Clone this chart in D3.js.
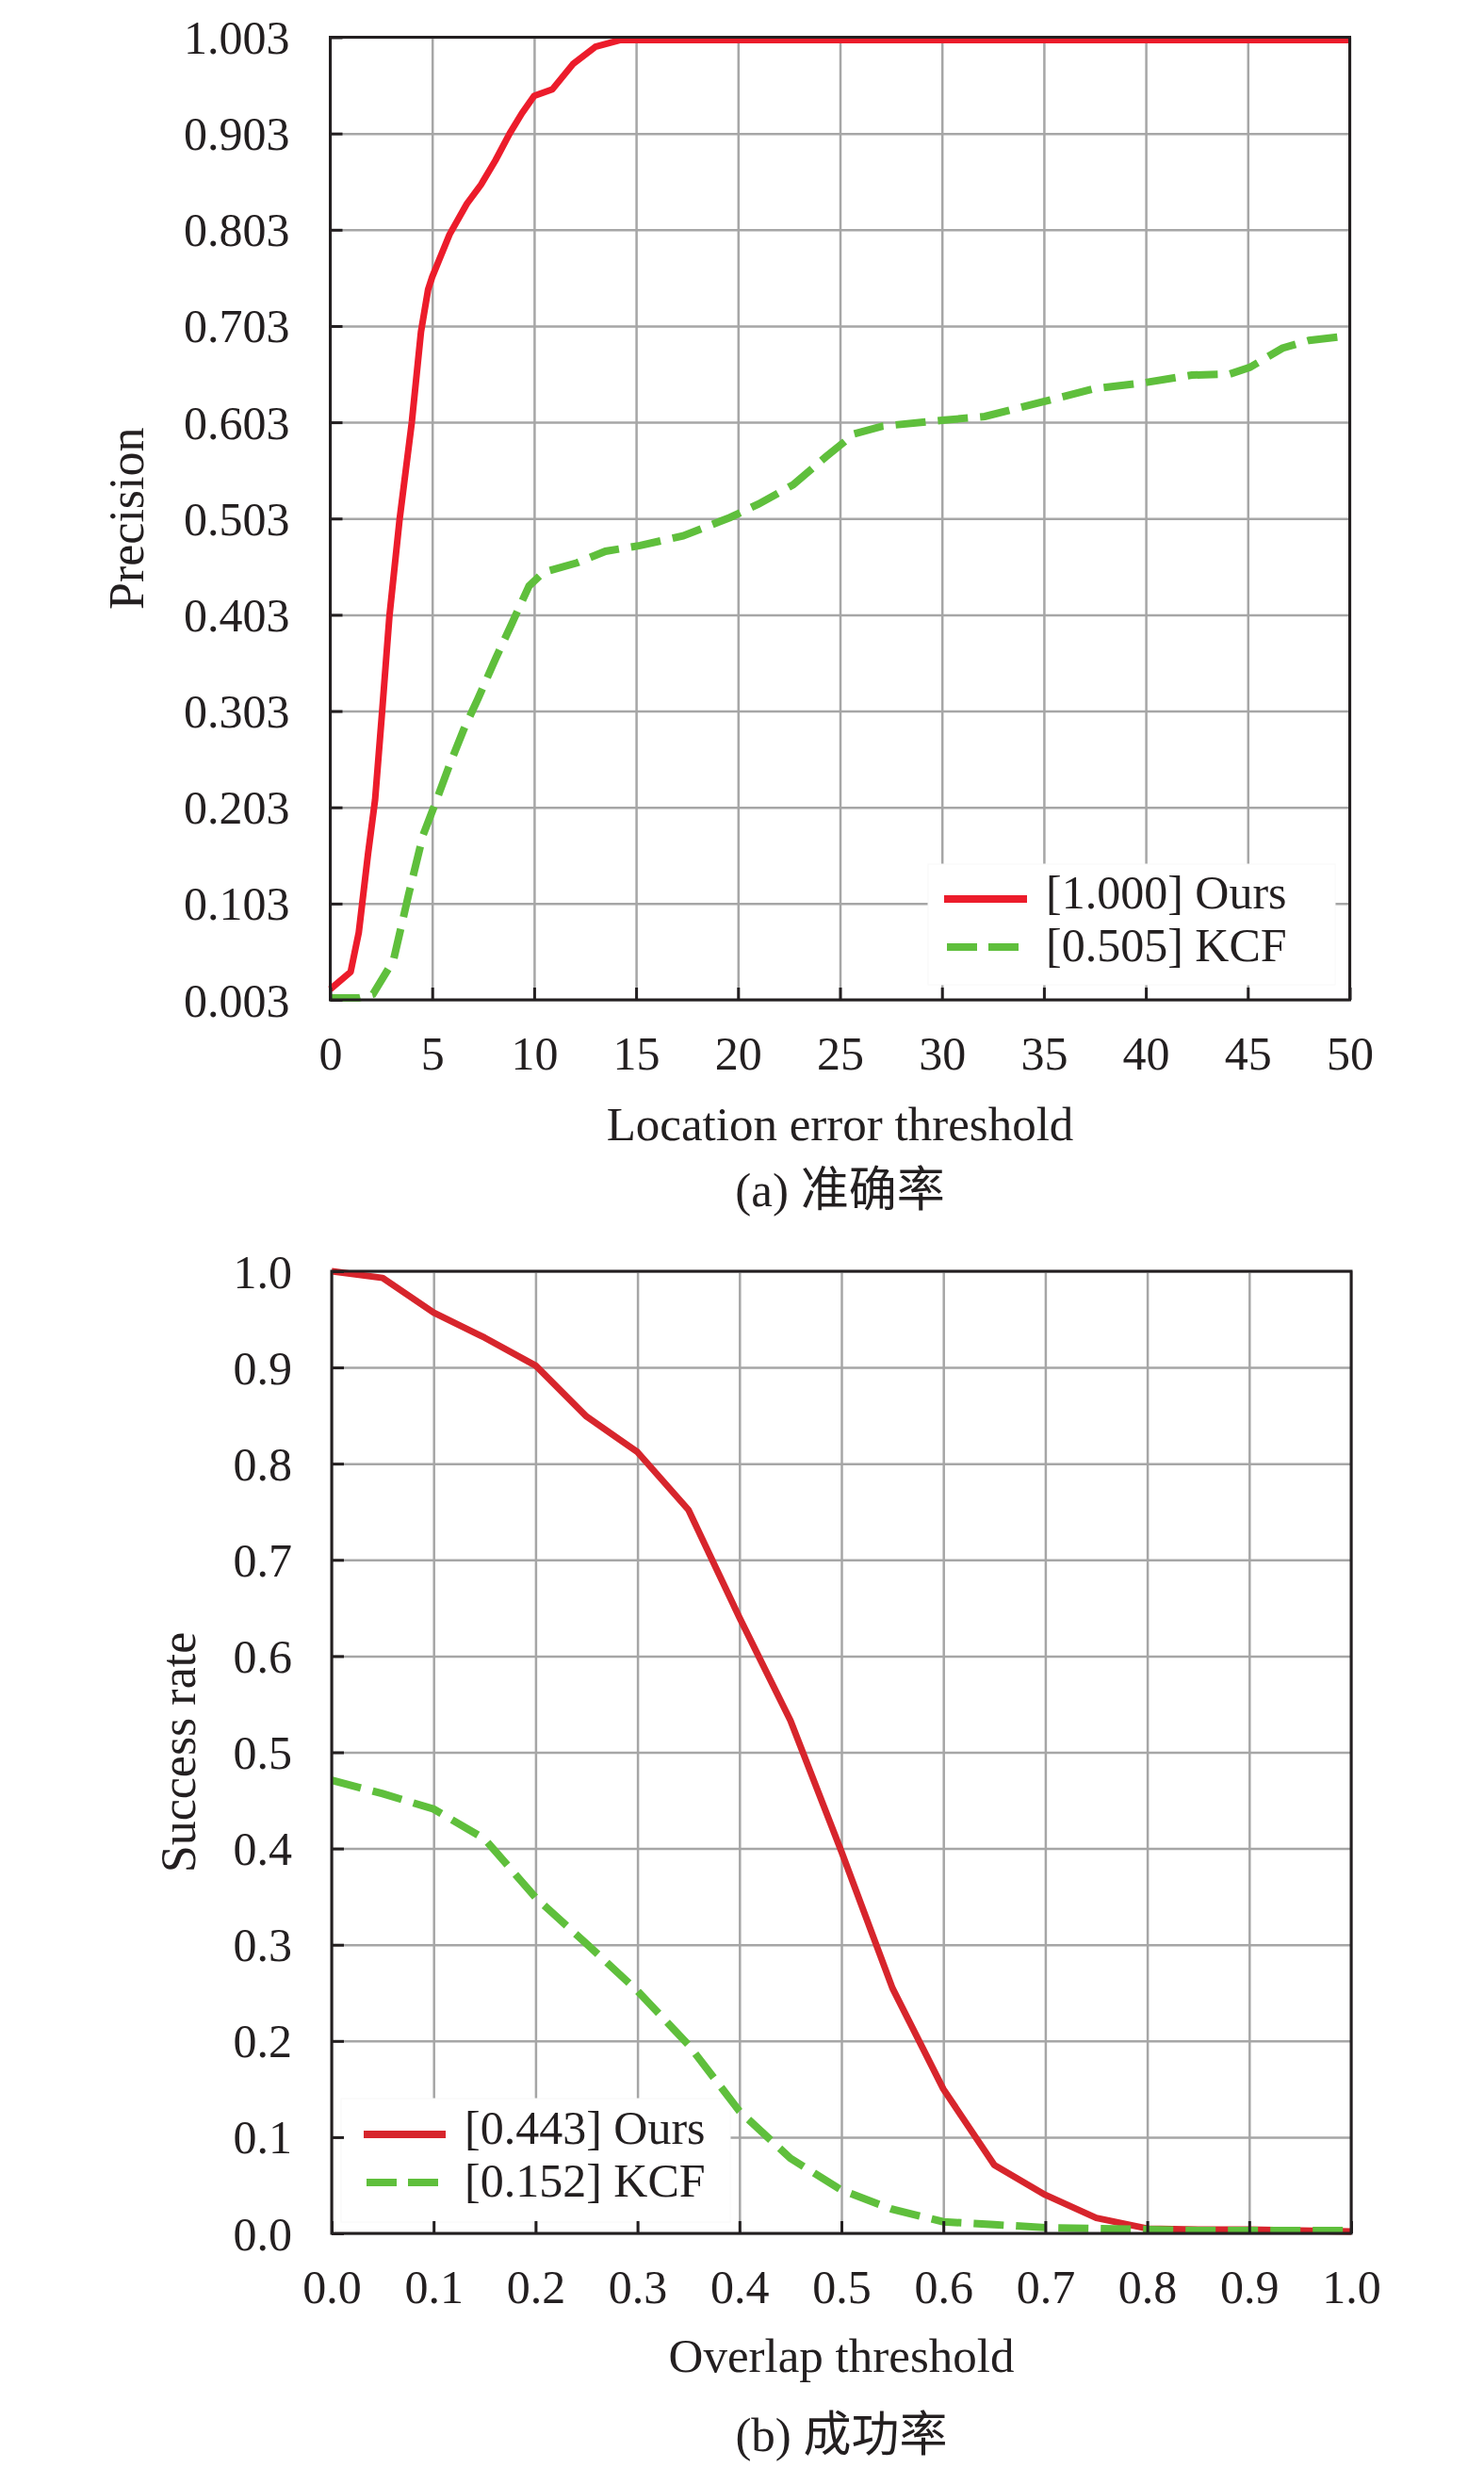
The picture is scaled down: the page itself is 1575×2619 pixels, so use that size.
<!DOCTYPE html>
<html>
<head>
<meta charset="utf-8">
<script src="https://cdn.jsdelivr.net/npm/d3@7"></script>
<style>
  body { margin: 0; background: #fff; }
  text { font-family: "Liberation Serif", "Times New Roman", "Noto Sans CJK SC", serif; fill: #231f20; }
</style>
</head>
<body>
<div id="chart"></div>
<script>
// ---- (a) precision plot data ----
var precXTicks = [0, 5, 10, 15, 20, 25, 30, 35, 40, 45, 50];
var precYTicks = [0.003, 0.103, 0.203, 0.303, 0.403, 0.503, 0.603, 0.703, 0.803, 0.903, 1.003];
var precYLabels = ["0.003", "0.103", "0.203", "0.303", "0.403", "0.503", "0.603", "0.703", "0.803", "0.903", "1.003"];

var precOursX = [0, 1, 1.4, 1.85, 2.2, 2.55, 2.9, 3.4, 4, 4.45, 4.8, 5, 5.85, 6.7, 7.4, 8.1, 8.8, 9.4, 10, 10.9, 11.9, 13, 14.2, 15, 50];
var precOursY = [0.014, 0.032, 0.073, 0.154, 0.211, 0.304, 0.401, 0.502, 0.603, 0.697, 0.741, 0.754, 0.798, 0.83, 0.85, 0.875, 0.903, 0.924, 0.942, 0.949, 0.975, 0.993, 1.0, 1.0, 1.0];

var precKcfX = [0, 1.4, 2.1, 3.1, 3.85, 4.55, 5.15, 5.85, 6.55, 7.25, 8.1, 8.8, 9.75, 10.45, 12.1, 13.5, 15.2, 17.3, 19.6, 21, 22.7, 24.3, 25.7, 27.1, 30, 32.1, 34.9, 37.5, 39.9, 42.25, 44.1, 45.1, 46.7, 48, 50];
var precKcfY = [0.005, 0.005, 0.009, 0.044, 0.113, 0.174, 0.207, 0.247, 0.284, 0.316, 0.357, 0.389, 0.433, 0.447, 0.457, 0.469, 0.475, 0.485, 0.504, 0.518, 0.538, 0.567, 0.591, 0.599, 0.605, 0.609, 0.624, 0.638, 0.644, 0.652, 0.653, 0.660, 0.680, 0.688, 0.693];

var precLegend = ["[1.000] Ours", "[0.505] KCF"];

// ---- (b) success plot data ----
var succXTicks = [0, 0.1, 0.2, 0.3, 0.4, 0.5, 0.6, 0.7, 0.8, 0.9, 1.0];
var succYTicks = [0, 0.1, 0.2, 0.3, 0.4, 0.5, 0.6, 0.7, 0.8, 0.9, 1.0];

var succX = [0, 0.05, 0.1, 0.15, 0.2, 0.25, 0.3, 0.35, 0.4, 0.45, 0.5, 0.55, 0.6, 0.65, 0.7, 0.75, 0.8, 0.85, 0.9, 0.95, 1.0];
var succOurs = [1.0, 0.993, 0.957, 0.931, 0.902, 0.849, 0.812, 0.752, 0.640, 0.533, 0.397, 0.255, 0.150, 0.071, 0.040, 0.016, 0.005, 0.004, 0.004, 0.003, 0.002];
var succKcf = [0.471, 0.457, 0.441, 0.410, 0.349, 0.301, 0.252, 0.196, 0.127, 0.078, 0.045, 0.025, 0.012, 0.009, 0.006, 0.005, 0.004, 0.003, 0.003, 0.003, 0.003];

var succLegend = ["[0.443] Ours", "[0.152] KCF"];

var W = 1575, H = 2619;
var FS = 50;

var svg = d3.select("#chart").append("svg")
  .attr("width", W)
  .attr("height", H);

function zip(xs, ys) {
  return xs.map(function(x, i) { return [x, ys[i]]; });
}

function drawPanel(cfg) {
  var x = d3.scaleLinear().domain(cfg.xDomain).range([cfg.left, cfg.right]);
  var y = d3.scaleLinear().domain(cfg.yDomain).range([cfg.bottom, cfg.top]);
  var g = svg.append("g");

  // grid
  g.append("g")
    .attr("transform", "translate(0," + cfg.bottom + ")")
    .call(d3.axisBottom(x).tickValues(cfg.xTicks).tickSize(-(cfg.bottom - cfg.top)).tickFormat(""))
    .call(function(s) {
      s.select(".domain").remove();
      s.selectAll("line").attr("stroke", "#a6a6a6").attr("stroke-width", 2.5);
    });
  g.append("g")
    .attr("transform", "translate(" + cfg.left + ",0)")
    .call(d3.axisLeft(y).tickValues(cfg.yTicks).tickSize(-(cfg.right - cfg.left)).tickFormat(""))
    .call(function(s) {
      s.select(".domain").remove();
      s.selectAll("line").attr("stroke", "#a6a6a6").attr("stroke-width", 2.5);
    });

  // legend background hides the grid
  g.append("rect")
    .attr("x", cfg.legend.x0).attr("y", cfg.legend.y0)
    .attr("width", cfg.legend.x1 - cfg.legend.x0)
    .attr("height", cfg.legend.y1 - cfg.legend.y0)
    .attr("fill", "#fff")
    .attr("stroke", "#f8f8f8")
    .attr("stroke-width", 1);

  var line = d3.line()
    .x(function(d) { return x(d[0]); })
    .y(function(d) { return y(d[1]); });

  g.append("path")
    .datum(cfg.ours)
    .attr("d", line)
    .attr("fill", "none")
    .attr("stroke", cfg.red)
    .attr("stroke-width", 7)
    .attr("stroke-linejoin", "round");

  g.append("path")
    .datum(cfg.kcf)
    .attr("d", line)
    .attr("fill", "none")
    .attr("stroke", "#5fbf3c")
    .attr("stroke-width", 8)
    .attr("stroke-dasharray", "32,13");

  // frame
  g.append("rect")
    .attr("x", cfg.left).attr("y", cfg.top)
    .attr("width", cfg.right - cfg.left)
    .attr("height", cfg.bottom - cfg.top)
    .attr("fill", "none")
    .attr("stroke", "#231f20")
    .attr("stroke-width", 3);

  // inward ticks + labels
  var ax = g.append("g")
    .attr("transform", "translate(0," + cfg.bottom + ")")
    .call(d3.axisBottom(x).tickValues(cfg.xTicks).tickSize(-13).tickPadding(0).tickFormat(cfg.xFormat));
  ax.select(".domain").remove();
  ax.selectAll("line").attr("stroke", "#231f20").attr("stroke-width", 3);
  ax.selectAll("text")
    .attr("y", 74).attr("dy", null)
    .attr("font-size", FS)
    .attr("fill", "#231f20")
    .style("font-family", "'Liberation Serif', serif");

  var ay = g.append("g")
    .attr("transform", "translate(" + cfg.left + ",0)")
    .call(d3.axisLeft(y).tickValues(cfg.yTicks).tickSize(-13).tickPadding(0)
      .tickFormat(function(d, i) { return cfg.yLabels[i]; }));
  ay.select(".domain").remove();
  ay.selectAll("line").attr("stroke", "#231f20").attr("stroke-width", 3);
  ay.selectAll("text")
    .attr("x", -cfg.yLabelGap).attr("dy", "0.34em")
    .attr("font-size", FS)
    .attr("fill", "#231f20")
    .style("font-family", "'Liberation Serif', serif");

  // axis titles
  g.append("text")
    .attr("transform", "translate(" + cfg.yTitleX + "," + (cfg.top + cfg.bottom) / 2 + ") rotate(-90)")
    .attr("text-anchor", "middle")
    .attr("font-size", 52)
    .text(cfg.yTitle);

  g.append("text")
    .attr("x", (cfg.left + cfg.right) / 2)
    .attr("y", cfg.bottom + cfg.xTitleGap)
    .attr("text-anchor", "middle")
    .attr("font-size", 51)
    .text(cfg.xTitle);

  g.append("text")
    .attr("x", (cfg.left + cfg.right) / 2)
    .attr("y", cfg.bottom + cfg.captionGap)
    .attr("text-anchor", "middle")
    .attr("font-size", 51)
    .text(cfg.caption);

  // legend
  var lg = cfg.legend;
  var names = cfg.legendText;
  g.append("line")
    .attr("x1", lg.lineX0).attr("x2", lg.lineX1)
    .attr("y1", lg.row0 - 10).attr("y2", lg.row0 - 10)
    .attr("stroke", cfg.red).attr("stroke-width", 8);
  g.append("line")
    .attr("x1", lg.lineX0 + 3).attr("x2", lg.lineX1 - 8)
    .attr("y1", lg.row0 + lg.step - 15).attr("y2", lg.row0 + lg.step - 15)
    .attr("stroke", "#5fbf3c").attr("stroke-width", 8)
    .attr("stroke-dasharray", "32,12");
  names.forEach(function(t, i) {
    g.append("text")
      .attr("x", lg.textX)
      .attr("y", lg.row0 + i * lg.step)
      .attr("font-size", FS)
      .text(t);
  });
}

drawPanel({
  left: 350.5, right: 1432.5, top: 39.5, bottom: 1061,
  xDomain: [0, 50], yDomain: [0.003, 1.003],
  xTicks: precXTicks, yTicks: precYTicks, yLabels: precYLabels,
  xFormat: d3.format("d"),
  yLabelGap: 43,
  ours: zip(precOursX, precOursY),
  kcf: zip(precKcfX, precKcfY),
  red: "#ec1c2b",
  yTitle: "Precision", yTitleX: 152,
  xTitle: "Location error threshold", xTitleGap: 149,
  caption: "(a) 准确率", captionGap: 219,
  legendText: precLegend,
  legend: { x0: 985, x1: 1417, y0: 917, y1: 1045, lineX0: 1002, lineX1: 1090, textX: 1110, row0: 964, step: 56 }
});

drawPanel({
  left: 352, right: 1434, top: 1349, bottom: 2370,
  xDomain: [0, 1], yDomain: [0, 1],
  xTicks: succXTicks, yTicks: succYTicks,
  yLabels: succYTicks.map(d3.format(".1f")),
  xFormat: d3.format(".1f"),
  yLabelGap: 42,
  ours: zip(succX, succOurs),
  kcf: zip(succX, succKcf),
  red: "#d7252c",
  yTitle: "Success rate", yTitleX: 207,
  xTitle: "Overlap threshold", xTitleGap: 147,
  caption: "(b) 成功率", captionGap: 231,
  legendText: succLegend,
  legend: { x0: 362, x1: 775, y0: 2227, y1: 2358, lineX0: 386, lineX1: 473, textX: 493, row0: 2275, step: 56 }
});
</script>
</body>
</html>
